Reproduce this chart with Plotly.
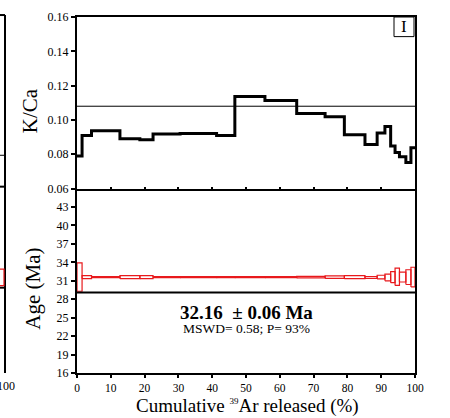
import plotly.graph_objects as go

# ---- data ----
step_edges = [0, 1.5, 4.3, 12.7, 18.6, 22.5, 30.5, 41.3, 46.7, 55.6, 65.0, 73.4,
              79.1, 85.2, 88.8, 91.1, 92.8, 94.1, 95.4, 97.3, 98.8, 100]
kca_values = [0.079, 0.091, 0.0937, 0.089, 0.0884, 0.0918, 0.0921, 0.0910, 0.1137,
              0.1114, 0.1038, 0.1019, 0.0914, 0.0857, 0.0924, 0.0962, 0.0848,
              0.0810, 0.0785, 0.0752, 0.0838]
kca_mean = 0.108
age_values = [31.6, 31.6, 31.6, 31.6, 31.6, 31.6, 31.6, 31.6, 31.6, 31.6, 31.6,
              31.6, 31.6, 31.55, 31.6, 31.55, 31.6, 31.65, 31.6, 31.6, 31.6]
age_errors = [2.3, 0.25, 0.08, 0.25, 0.25, 0.08, 0.08, 0.08, 0.08, 0.08, 0.12,
              0.2, 0.25, 0.15, 0.3, 0.55, 0.9, 1.4, 0.8, 1.2, 1.6]
age_divider = 29.1
x_ticks = list(range(0, 101, 10))
kca_ticks = [0.06, 0.08, 0.10, 0.12, 0.14, 0.16]
age_ticks = [16, 19, 22, 25, 28, 31, 34, 37, 40, 43]
plateau_text = "<b>32.16 &nbsp;± 0.06 Ma</b>"
stats_text = "MSWD= 0.58; P= 93%"

SERIF = "Liberation Serif, Times New Roman, serif"

fig = go.Figure()

# K/Ca step line
kx = list(step_edges)
ky = list(kca_values) + [kca_values[-1]]
fig.add_trace(go.Scatter(x=kx, y=ky, mode="lines", line=dict(color="black", width=3, shape="hv"),
                         xaxis="x", yaxis="y", hoverinfo="skip"))
fig.add_trace(go.Scatter(x=[0, 100], y=[kca_mean, kca_mean], mode="lines",
                         line=dict(color="black", width=1), xaxis="x", yaxis="y", hoverinfo="skip"))

# Age spectrum boxes
bx, by = [], []
for i, (a, e) in enumerate(zip(age_values, age_errors)):
    x0, x1 = step_edges[i], step_edges[i + 1]
    bx += [x0, x1, x1, x0, x0, None]
    by += [a - e, a - e, a + e, a + e, a - e, None]
fig.add_trace(go.Scatter(x=bx, y=by, mode="lines", line=dict(color="#e8191c", width=1.2),
                         xaxis="x2", yaxis="y2", hoverinfo="skip"))
fig.add_trace(go.Scatter(x=[0, 100], y=[age_divider, age_divider], mode="lines",
                         line=dict(color="black", width=2), xaxis="x2", yaxis="y2", hoverinfo="skip"))

axis_common = dict(showline=True, linecolor="black", linewidth=2, mirror=True,
                   showgrid=False, zeroline=False, ticks="outside", ticklen=4,
                   tickcolor="black", tickwidth=1.5,
                   tickfont=dict(family=SERIF, size=12, color="black"))

split = 0.518
fig.update_layout(
    width=450, height=418,
    margin=dict(l=77, r=35, t=10, b=45),
    paper_bgcolor="white", plot_bgcolor="white",
    showlegend=False,
    xaxis=dict(axis_common, domain=[0, 1], anchor="y", range=[0, 100], tickvals=x_ticks,
               showticklabels=False, ticks="inside", ticklen=2),
    yaxis=dict(axis_common, domain=[split, 1], anchor="x", range=[0.06, 0.16],
               tickvals=kca_ticks, tickformat=".2f"),
    xaxis2=dict(axis_common, domain=[0, 1], anchor="y2", range=[0, 100], tickvals=x_ticks,
                mirror=False, ticklen=3, tickfont=dict(family=SERIF, size=11.5, color="black")),
    yaxis2=dict(axis_common, domain=[0, split], anchor="x2", range=[16, 46],
                tickvals=age_ticks),
)

def px_x(p):
    return (p - 77) / 338.0

def px_y(p):
    return (373 - p) / 363.0

ann = [
    dict(text="K/Ca", x=px_x(30), y=px_y(106), textangle=-90, font=dict(size=21)),
    dict(text="Age (Ma)", x=px_x(33), y=px_y(287), textangle=-90, font=dict(size=21)),
    dict(text="Cumulative <sup><span style='font-size:9px'>39</span></sup>Ar released (%)",
         x=px_x(247), y=px_y(420), yanchor="bottom", font=dict(size=19)),
    dict(text="I", x=px_x(404), y=px_y(20), font=dict(size=17)),
    dict(text="100", x=px_x(6), y=px_y(386), font=dict(size=12)),
]
for a in ann:
    a.setdefault("yanchor", "middle")
    a.update(xref="paper", yref="paper", showarrow=False, xanchor="center")
    a["font"].update(family=SERIF, color="black")
    fig.add_annotation(**a)

fig.add_annotation(text=plateau_text, x=50, y=25.9, xref="x2", yref="y2", showarrow=False,
                   font=dict(family=SERIF, size=19, color="black"))
fig.add_annotation(text=stats_text, x=50, y=23.2, xref="x2", yref="y2", showarrow=False,
                   font=dict(family=SERIF, size=13.5, color="black"))

shapes = [
    dict(type="rect", x0=px_x(394), x1=px_x(414), y0=px_y(30), y1=px_y(10),
         line=dict(color="black", width=1), fillcolor="white", layer="below"),
    # neighbouring panel edge on the left
    dict(type="line", x0=px_x(5), x1=px_x(5), y0=px_y(8), y1=px_y(373),
         line=dict(color="black", width=2)),
    dict(type="line", x0=px_x(-2), x1=px_x(5), y0=px_y(8), y1=px_y(8),
         line=dict(color="black", width=2)),
    dict(type="line", x0=px_x(-2), x1=px_x(5), y0=px_y(151), y1=px_y(151),
         line=dict(color="black", width=1)),
    dict(type="line", x0=px_x(-2), x1=px_x(5), y0=px_y(183), y1=px_y(183),
         line=dict(color="black", width=2)),
    dict(type="line", x0=px_x(-2), x1=px_x(5), y0=px_y(286), y1=px_y(286),
         line=dict(color="black", width=2)),
    dict(type="rect", x0=px_x(-2), x1=px_x(4), y0=px_y(284), y1=px_y(267),
         line=dict(color="#e8191c", width=1.2)),
]
for s in shapes:
    s.update(xref="paper", yref="paper")
    fig.add_shape(**s)

fig.write_html("out.html", config={"displayModeBar": False},
               post_script="document.body.style.margin='0';document.body.style.padding='0';")
